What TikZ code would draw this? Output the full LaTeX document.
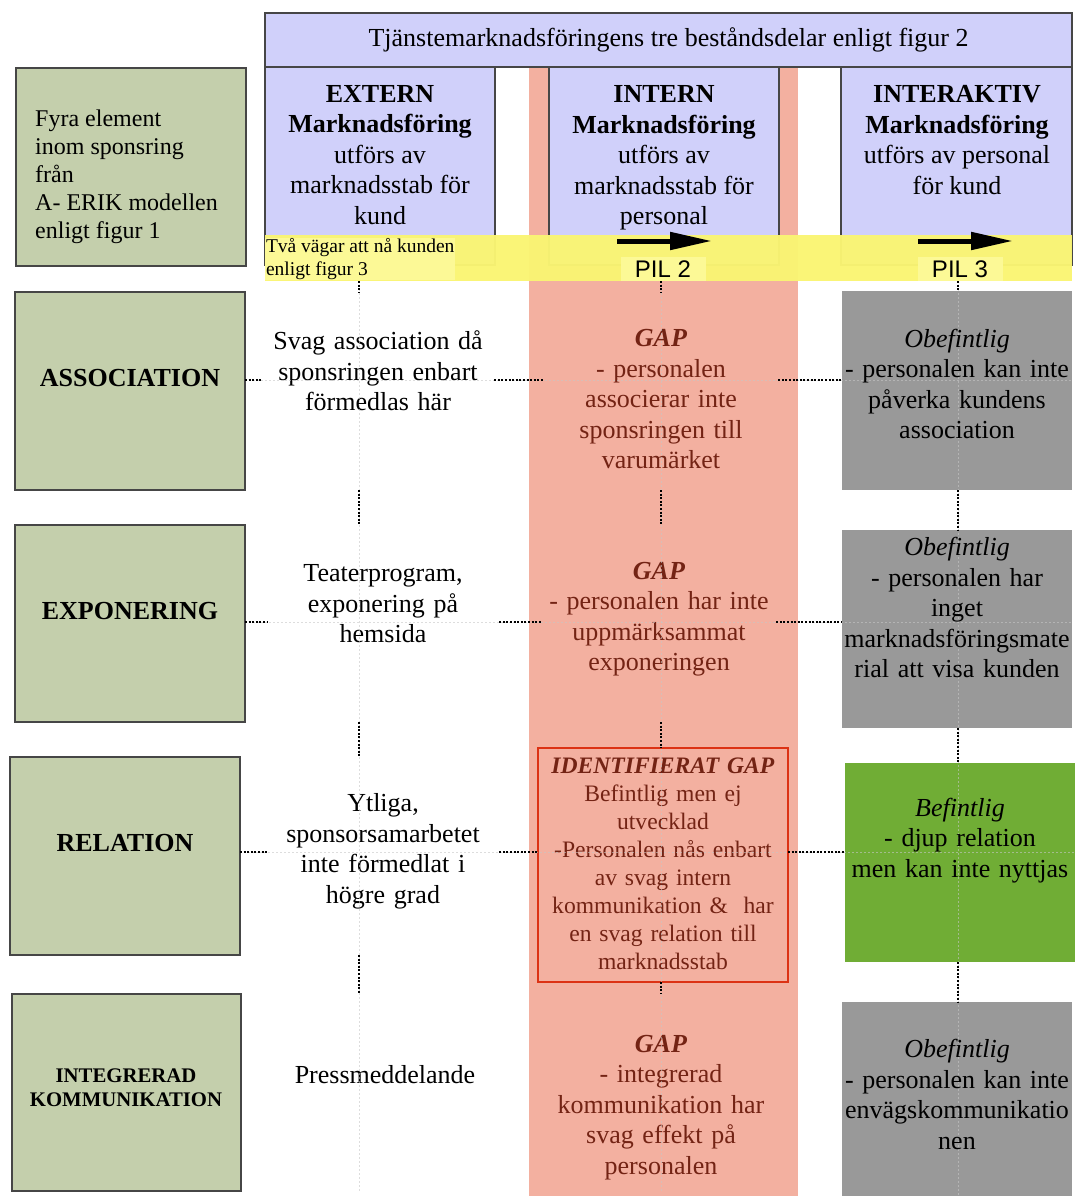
\documentclass[tikz,border=0pt]{standalone}
\usepackage{fontspec}
\setmainfont{Liberation Serif}
\newfontfamily\pilfont{Liberation Sans}
\usetikzlibrary{arrows.meta}
\definecolor{lav}{RGB}{208,208,250}
\definecolor{pinkcol}{RGB}{243,176,160}
\definecolor{yel}{RGB}{250,245,115}
\definecolor{yellight}{RGB}{252,249,150}
\definecolor{sage}{RGB}{196,207,172}
\definecolor{grayb}{RGB}{153,153,153}
\definecolor{greenb}{RGB}{112,173,53}
\definecolor{gaptext}{RGB}{115,35,20}
\definecolor{redframe}{RGB}{220,50,20}
\definecolor{framec}{RGB}{70,70,70}
\begin{document}
\begin{tikzpicture}[x=1pt,y=-1pt,
  boxn/.style={rectangle, inner sep=0pt, outer sep=0pt},
  head/.style={boxn, fill=lav, draw=framec, line width=1.2pt},
  sagebox/.style={boxn, fill=sage, draw=framec, line width=1.2pt},
  body/.style={align=center, inner sep=0pt, font=\fontsize{26}{30.5}\selectfont},
  midtxt/.style={body, text width=232pt},
  gaptxt/.style={body, text width=234pt, text=gaptext},
  righttxt/.style={body, text width=236pt},
  conn/.style={line width=1.6pt, dash pattern=on 2pt off 1.6pt, black},
  faint/.style={line width=1pt, dash pattern=on 2pt off 2pt, gray!45, opacity=0.6},
  arrowpil/.style={line width=5pt, -{Triangle[length=42pt,width=17pt]}},
]
\useasboundingbox (0,0) rectangle (1075,1196);

% pink column
\node[boxn, fill=pinkcol, minimum width=269pt, minimum height=1129pt] (PC) at (663.5,631.5) {};

% header boxes
\node[head, minimum width=807pt, minimum height=54pt] (T) at (668.5,40) {};
\node[head, minimum width=230pt, minimum height=198pt] (E) at (380,166) {};
\node[head, minimum width=230pt, minimum height=198pt] (I) at (664,166) {};
\node[head, minimum width=231pt, minimum height=198pt] (IA) at (956.5,166) {};

% yellow band
\node[boxn, fill=yel, opacity=0.97, minimum width=807pt, minimum height=46pt] (Y) at (668.5,258) {};

% arrows
\coordinate (a2s) at (617,241);
\coordinate (a2e) at (712,241);
\coordinate (a3s) at (918,241);
\coordinate (a3e) at (1013,241);
\draw[arrowpil] (a2s) -- (a2e);
\draw[arrowpil] (a3s) -- (a3e);

\node[boxn, fill=yellight, minimum width=85pt, minimum height=24pt, font=\pilfont\fontsize{24}{26}\selectfont] (PIL2) at (663,269) {PIL 2};
\node[boxn, fill=yellight, minimum width=85pt, minimum height=24pt, font=\pilfont\fontsize{24}{26}\selectfont] (PIL3) at (960,269) {PIL 3};
\node[boxn, fill=yellight, inner sep=1pt, anchor=west, align=left, font=\fontsize{19.5}{22.5}\selectfont] (TV) at (265,259) {Två vägar att nå kunden\\enligt figur 3};

% left boxes
\node[sagebox, minimum width=230pt, minimum height=198pt] (L0) at (131,167) {};
\node[sagebox, minimum width=230pt, minimum height=198pt] (L1) at (130,391) {};
\node[sagebox, minimum width=230pt, minimum height=197pt] (L2) at (130,623.5) {};
\node[sagebox, minimum width=230pt, minimum height=198pt] (L3) at (125,856) {};
\node[sagebox, minimum width=229pt, minimum height=197pt] (L4) at (126.5,1092.5) {};

% right boxes
\node[boxn, fill=grayb, minimum width=230pt, minimum height=199pt] (R1) at (957,390.5) {};
\node[boxn, fill=grayb, minimum width=230pt, minimum height=198pt] (R2) at (957,629) {};
\node[boxn, fill=greenb, minimum width=230pt, minimum height=199pt] (R3) at (960,862.5) {};
\node[boxn, fill=grayb, minimum width=230pt, minimum height=194pt] (R4) at (957,1099) {};

% identified gap frame
\node[boxn, draw=redframe, line width=2pt, minimum width=250pt, minimum height=234pt] (IB) at (663,865) {};

% reference coordinates for rows and columns
\coordinate (r1) at (0,380);
\coordinate (r2) at (0,622);
\coordinate (r3) at (0,852);
\coordinate (cA) at (359,0);
\coordinate (cB) at (661,0);
\coordinate (cC) at (958,0);

% text nodes
\node[body] (Ttxt) at (668.5,40) {Tjänstemarknadsföringens tre beståndsdelar enligt figur 2};
\node[body] (Etxt) at (380,155) {\textbf{EXTERN}\\\textbf{Marknadsföring}\\utförs av\\marknadsstab för\\kund};
\node[body] (Itxt) at (664,158) {\textbf{INTERN}\\\textbf{Marknadsföring}\\utförs av\\marknadsstab för\\personal};
\node[body] (IAtxt) at (957,140) {\textbf{INTERAKTIV}\\\textbf{Marknadsföring}\\utförs av personal\\för kund};

\node[inner sep=0pt, anchor=west, align=left, font=\fontsize{24}{28}\selectfont] (L0txt) at (35,177) {Fyra element\\inom sponsring\\från\\A- ERIK modellen\\enligt figur 1};
\node[body, font=\bfseries\fontsize{26}{30.5}\selectfont] (L1txt) at (130,378) {ASSOCIATION};
\node[body, font=\bfseries\fontsize{26}{30.5}\selectfont] (L2txt) at (130,611) {EXPONERING};
\node[body, font=\bfseries\fontsize{26}{30.5}\selectfont] (L3txt) at (125,843) {RELATION};
\node[body, font=\bfseries\fontsize{20.75}{24}\selectfont] (L4txt) at (126,1088) {INTEGRERAD\\KOMMUNIKATION};

\node[midtxt] (M1) at (378,371) {Svag association då\\sponsringen enbart\\förmedlas här};
\node[midtxt] (M2) at (383,604) {Teaterprogram,\\exponering på\\hemsida};
\node[midtxt] (M3) at (383,851.5) {Ytliga,\\sponsorsamarbetet\\inte förmedlat i\\högre grad};
\node[midtxt] (M4) at (385,1075) {Pressmeddelande};

\node[gaptxt] (P1) at (661,399.5) {\textbf{\textit{GAP}}\\- personalen\\associerar inte\\sponsringen till\\varumärket};
\node[gaptxt] (P2) at (659,619) {\textbf{\textit{GAP}}\\- personalen har inte\\uppmärksammat\\exponeringen};
\node[gaptxt, font=\fontsize{23.6}{28}\selectfont] (P3) at (663,864) {\textbf{\textit{IDENTIFIERAT GAP}}\\Befintlig men ej\\utvecklad\\-Personalen nås enbart\\av svag intern\\kommunikation \&\ \ har\\en svag relation till\\marknadsstab};
\node[gaptxt] (P4) at (661,1107.5) {\textbf{\textit{GAP}}\\- integrerad\\kommunikation har\\svag effekt på\\personalen};

% faint guide lines
\draw[faint] (cA |- Y.south) -- (cA |- L4.south);
\draw[faint] (cB |- Y.south) -- (cB |- L4.south);
\draw[faint] (cC |- Y.south) -- (cC |- R4.south);
\draw[faint] (L1.east |- r1) -- (R1.east |- r1);
\draw[faint] (L2.east |- r2) -- (R2.east |- r2);
\draw[faint] (L3.east |- r3) -- (R3.east |- r3);

% dotted connectors: vertical
\draw[conn] (cA |- Y.south) -- (cA |- L1.north);
\draw[conn] (cA |- L1.south) -- (cA |- L2.north);
\draw[conn] (cA |- L2.south) -- (cA |- L3.north);
\draw[conn] (cA |- L3.south) -- (cA |- L4.north);
\draw[conn] (cB |- Y.south) -- (cB |- L1.north);
\draw[conn] (cB |- L1.south) -- (cB |- L2.north);
\draw[conn] (cB |- L2.south) -- (cB |- IB.north);
\draw[conn] (cB |- IB.south) -- (cB |- L4.north);
\draw[conn] (cC |- Y.south) -- (cC |- R1.north);
\draw[conn] (cC |- R1.south) -- (cC |- R2.north);
\draw[conn] (cC |- R2.south) -- (cC |- R3.north);
\draw[conn] (cC |- R3.south) -- (cC |- R4.north);

% dotted connectors: horizontal
\draw[conn] (L1.east |- r1) -- (M1.west |- r1);
\draw[conn] (M1.east |- r1) -- (P1.west |- r1);
\draw[conn] (P1.east |- r1) -- (R1.west |- r1);
\draw[conn] (L2.east |- r2) -- (M2.west |- r2);
\draw[conn] (M2.east |- r2) -- (P2.west |- r2);
\draw[conn] (P2.east |- r2) -- (R2.west |- r2);
\draw[conn] (L3.east |- r3) -- (M3.west |- r3);
\draw[conn] (M3.east |- r3) -- (IB.west |- r3);
\draw[conn] (IB.east |- r3) -- (R3.west |- r3);

% right texts
\node[righttxt] (R1txt) at (957,384) {\textit{Obefintlig}\\- personalen kan inte\\påverka kundens\\association};
\node[righttxt] (R2txt) at (957,607.5) {\textit{Obefintlig}\\- personalen har\\inget\\marknadsföringsmate\\rial att visa kunden};
\node[righttxt] (R3txt) at (960,840.5) {\textit{Befintlig}\\- djup relation\\men kan inte nyttjas};
\node[righttxt] (R4txt) at (957,1094.5) {\textit{Obefintlig}\\- personalen kan inte\\envägskommunikatio\\nen};
\end{tikzpicture}
\end{document}
